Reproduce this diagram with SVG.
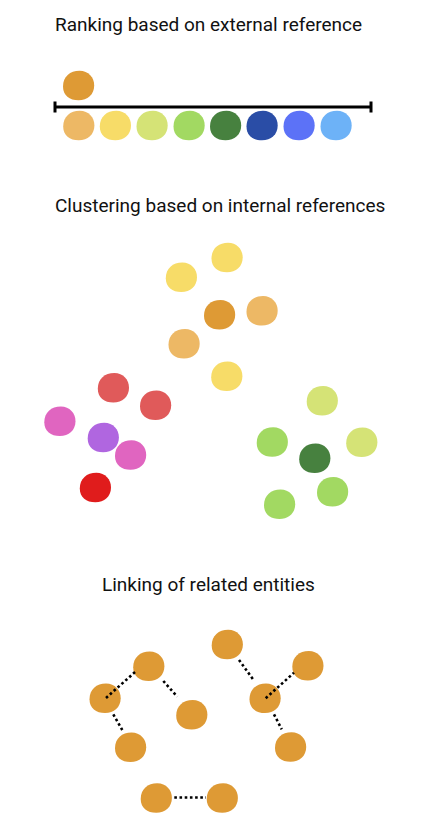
<svg xmlns="http://www.w3.org/2000/svg" xmlns:xlink="http://www.w3.org/1999/xlink" width="441" height="838" viewBox="0 0 441 838">
<style>
.t{font-family:Roboto,"Liberation Sans",sans-serif;font-size:19px;fill:#111}
.dot{stroke:#000;stroke-width:2.6;stroke-dasharray:2.6 2.6;fill:none}
.axis{stroke:#000;stroke-width:3;fill:none}
</style>
<defs>
<path id="blob" d="M -15.5,1 C -15.5,-9 -8.5,-14.8 1,-14.8 C 10,-14.8 15.7,-8 15.7,0 C 15.7,9 9,14.8 0,14.8 C -9,14.8 -15.5,10 -15.5,1 Z"/>
</defs>
<rect width="441" height="838" fill="#fff"/>
<text class="t" x="55" y="31">Ranking based on external reference</text>
<text class="t" x="55" y="211.5">Clustering based on internal references</text>
<text class="t" x="102" y="590.5">Linking of related entities</text>

<g id="rank-ref"><use xlink:href="#blob" x="78.5" y="85.5" fill="#DE9A35"/></g>
<g id="rank-1"><use xlink:href="#blob" x="78.7" y="125.5" fill="#EDB865"/></g>
<g id="rank-2"><use xlink:href="#blob" x="115.3" y="125.5" fill="#F7DC68"/></g>
<g id="rank-3"><use xlink:href="#blob" x="152" y="125.5" fill="#D5E376"/></g>
<g id="rank-4"><use xlink:href="#blob" x="189" y="125.5" fill="#A2D962"/></g>
<g id="rank-5"><use xlink:href="#blob" x="225.5" y="125.5" fill="#47813F"/></g>
<g id="rank-6"><use xlink:href="#blob" x="262" y="125.5" fill="#2A4DA6"/></g>
<g id="rank-7"><use xlink:href="#blob" x="299" y="125.5" fill="#5C72F7"/></g>
<g id="rank-8"><use xlink:href="#blob" x="336" y="125.5" fill="#6DB2F7"/></g>

<g id="c1-y1"><use xlink:href="#blob" x="181.3" y="277.2" fill="#F7DC68"/></g>
<g id="c1-y2"><use xlink:href="#blob" x="227" y="257.5" fill="#F7DC68"/></g>
<g id="c1-center"><use xlink:href="#blob" x="219.5" y="314.7" fill="#DE9A35"/></g>
<g id="c1-o1"><use xlink:href="#blob" x="262" y="310.8" fill="#EDB865"/></g>
<g id="c1-o2"><use xlink:href="#blob" x="184" y="343.7" fill="#EDB865"/></g>
<g id="c1-y3"><use xlink:href="#blob" x="226.7" y="376.3" fill="#F7DC68"/></g>

<g id="c2-r1"><use xlink:href="#blob" x="113.3" y="387.8" fill="#E05A5A"/></g>
<g id="c2-r2"><use xlink:href="#blob" x="155.5" y="405.3" fill="#E05A5A"/></g>
<g id="c2-p1"><use xlink:href="#blob" x="59.8" y="421.3" fill="#E065C0"/></g>
<g id="c2-center"><use xlink:href="#blob" x="103.2" y="437.5" fill="#B066E0"/></g>
<g id="c2-p2"><use xlink:href="#blob" x="130.5" y="455" fill="#E065C0"/></g>
<g id="c2-r3"><use xlink:href="#blob" x="95.3" y="487.5" fill="#E01C1C"/></g>

<g id="c3-l1"><use xlink:href="#blob" x="322.2" y="400.8" fill="#D5E376"/></g>
<g id="c3-g1"><use xlink:href="#blob" x="272.2" y="442" fill="#A2D962"/></g>
<g id="c3-l2"><use xlink:href="#blob" x="361.7" y="442.3" fill="#D5E376"/></g>
<g id="c3-center"><use xlink:href="#blob" x="314.7" y="458.3" fill="#47813F"/></g>
<g id="c3-g2"><use xlink:href="#blob" x="332.5" y="491.7" fill="#A2D962"/></g>
<g id="c3-g3"><use xlink:href="#blob" x="279.5" y="504.2" fill="#A2D962"/></g>

<g id="link-a"><use xlink:href="#blob" x="148.7" y="666.2" fill="#DE9A35"/></g>
<g id="link-b"><use xlink:href="#blob" x="105" y="698.3" fill="#DE9A35"/></g>
<g id="link-c"><use xlink:href="#blob" x="191.7" y="714.7" fill="#DE9A35"/></g>
<g id="link-d"><use xlink:href="#blob" x="130.5" y="747.2" fill="#DE9A35"/></g>
<g id="link-e"><use xlink:href="#blob" x="156.2" y="798" fill="#DE9A35"/></g>
<g id="link-f"><use xlink:href="#blob" x="222.2" y="798" fill="#DE9A35"/></g>
<g id="link-g"><use xlink:href="#blob" x="227.2" y="644.5" fill="#DE9A35"/></g>
<g id="link-h"><use xlink:href="#blob" x="307.8" y="665.8" fill="#DE9A35"/></g>
<g id="link-i"><use xlink:href="#blob" x="265" y="698.3" fill="#DE9A35"/></g>
<g id="link-j"><use xlink:href="#blob" x="290.5" y="747" fill="#DE9A35"/></g>

<g id="connectors">
<path class="axis" d="M55,107 H371 M55,101.5 V112.5 M371,101.5 V112.5"/>
<line class="dot" x1="106" y1="698" x2="135" y2="672"/>
<line class="dot" x1="163.3" y1="681" x2="177.3" y2="696.7"/>
<line class="dot" x1="113.3" y1="714.3" x2="122.3" y2="730"/>
<line class="dot" x1="174.3" y1="797.5" x2="206" y2="797.5"/>
<line class="dot" x1="239" y1="660" x2="254.3" y2="681"/>
<line class="dot" x1="265.7" y1="698.3" x2="294" y2="672.7"/>
<line class="dot" x1="274" y1="714.3" x2="281.7" y2="729.3"/>
</g>
</svg>
